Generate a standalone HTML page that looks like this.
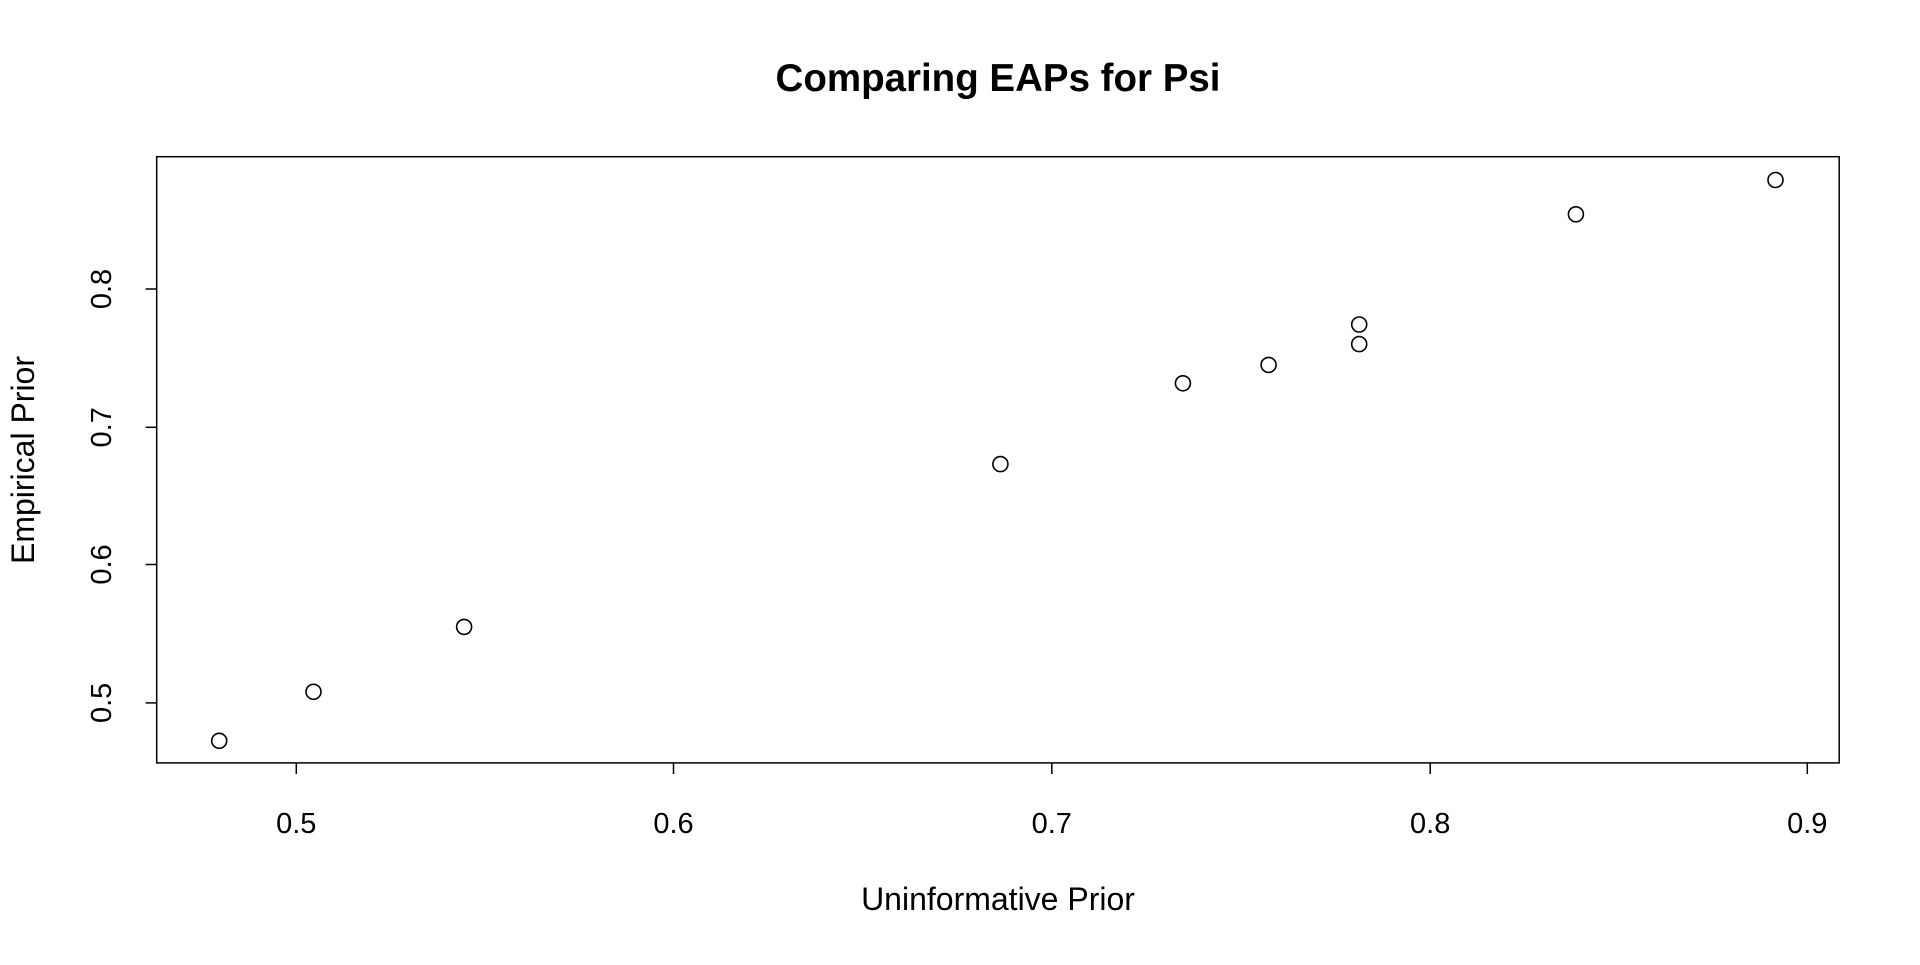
<!DOCTYPE html>
<html><head><meta charset="utf-8"><style>html,body{margin:0;padding:0;background:#fff;}</style></head>
<body>
<svg width="1920" height="960" xmlns="http://www.w3.org/2000/svg" font-family="Liberation Sans, Arial, sans-serif">
<rect width="1920" height="960" fill="#fff"/>
<text x="998" y="91" text-anchor="middle" font-size="38.5" font-weight="bold">Comparing EAPs for Psi</text>
<rect x="156.7" y="156.7" width="1682.5" height="606.2" fill="none" stroke="#000" stroke-width="1.5"/>
<g stroke="#000" stroke-width="1.5">
<line x1="296.3" y1="762.9" x2="296.3" y2="774"/>
<line x1="673.5" y1="762.9" x2="673.5" y2="774"/>
<line x1="1051.8" y1="762.9" x2="1051.8" y2="774"/>
<line x1="1430.2" y1="762.9" x2="1430.2" y2="774"/>
<line x1="1807.3" y1="762.9" x2="1807.3" y2="774"/>
<line x1="156.7" y1="289" x2="145.6" y2="289"/>
<line x1="156.7" y1="427.3" x2="145.6" y2="427.3"/>
<line x1="156.7" y1="564.5" x2="145.6" y2="564.5"/>
<line x1="156.7" y1="702.9" x2="145.6" y2="702.9"/>
</g>
<g font-size="29" text-anchor="middle">
<text x="296.3" y="833">0.5</text>
<text x="673.5" y="833">0.6</text>
<text x="1051.8" y="833">0.7</text>
<text x="1430.2" y="833">0.8</text>
<text x="1807.3" y="833">0.9</text>
<text transform="translate(111,289) rotate(-90)">0.8</text>
<text transform="translate(111,427.3) rotate(-90)">0.7</text>
<text transform="translate(111,564.5) rotate(-90)">0.6</text>
<text transform="translate(111,702.9) rotate(-90)">0.5</text>
<text x="998" y="910" font-size="32">Uninformative Prior</text>
<text transform="translate(34,460) rotate(-90)" font-size="32">Empirical Prior</text>
</g>
<g fill="none" stroke="#000" stroke-width="1.6">
<circle cx="219.2" cy="740.8" r="7.5"/>
<circle cx="313.5" cy="691.8" r="7.5"/>
<circle cx="464.1" cy="626.9" r="7.5"/>
<circle cx="1000.4" cy="464.1" r="7.5"/>
<circle cx="1182.9" cy="383.3" r="7.5"/>
<circle cx="1268.6" cy="364.9" r="7.5"/>
<circle cx="1359.2" cy="324.5" r="7.5"/>
<circle cx="1359.2" cy="344.1" r="7.5"/>
<circle cx="1575.9" cy="214.3" r="7.5"/>
<circle cx="1775.5" cy="180" r="7.5"/>
</g>
</svg>
</body></html>
